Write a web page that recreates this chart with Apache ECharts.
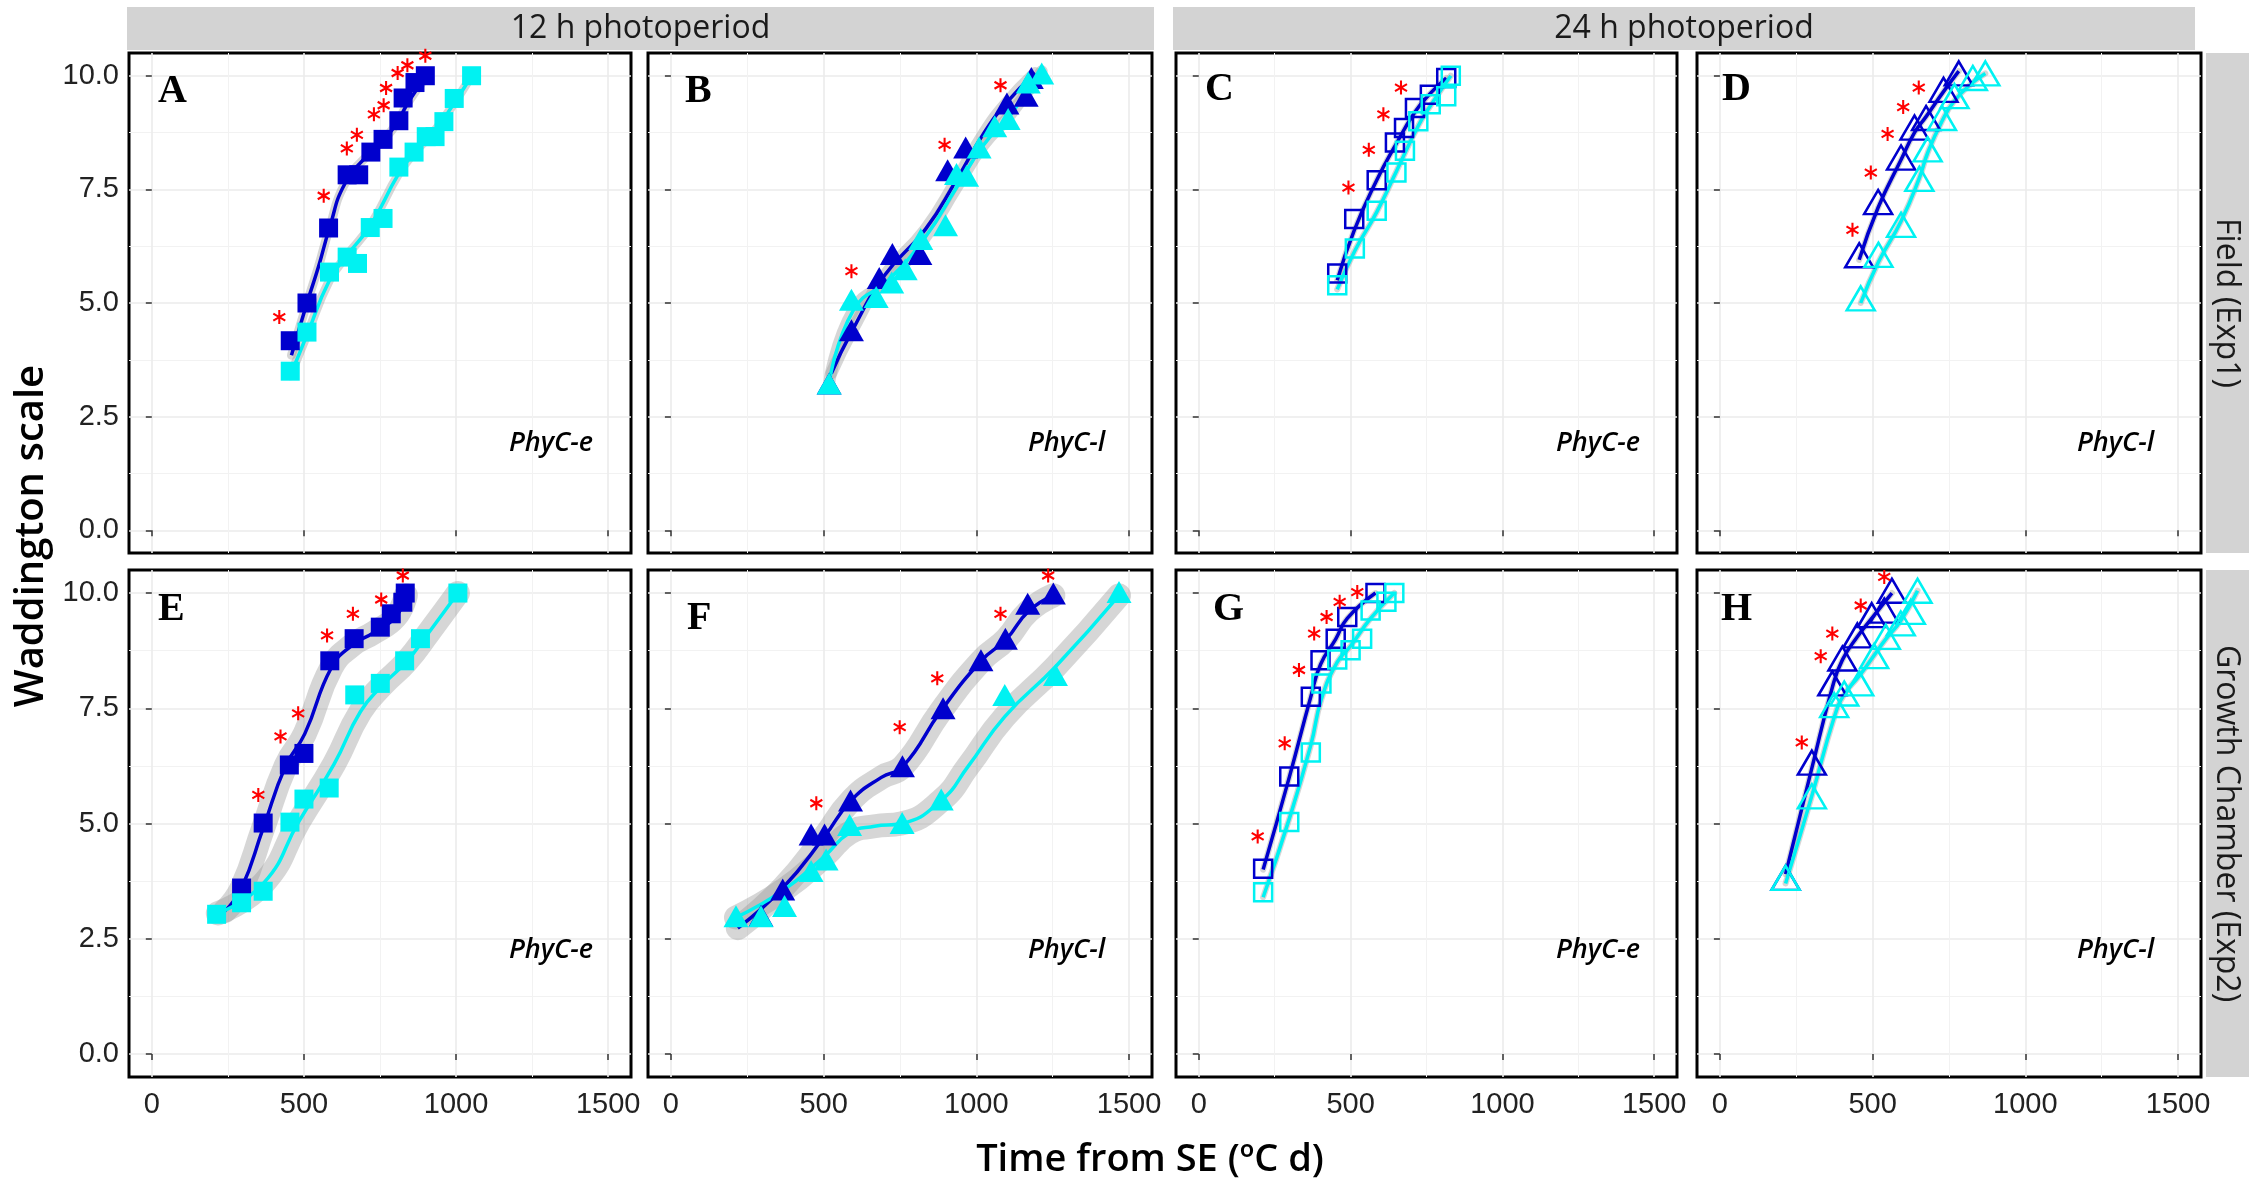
<!DOCTYPE html>
<html>
<head>
<meta charset="utf-8">
<script src="https://cdn.jsdelivr.net/npm/echarts@6/dist/echarts.min.js"></script>
<style>
  html, body { margin: 0; padding: 0; background: #fff; }
  #chart { width: 2257px; height: 1191px; }
</style>
</head>
<body>
<div id="chart"></div>
<script>
// tick values
const xMajor = [0, 500, 1000, 1500]
const xMinor = [250, 750, 1250]
const yMajor = [0, 2.5, 5, 7.5, 10]
const yMinor = [1.25, 3.75, 6.25, 8.75]

// A  12 h, field, PhyC-e
const aDarkX = [455, 510, 581, 642, 680, 720, 760, 812, 826, 865, 899]
const aDarkY = [4.17, 5.0, 6.65, 7.82, 7.82, 8.32, 8.6, 9.01, 9.51, 9.85, 10.0]
const aCyanX = [455, 510, 584, 642, 676, 718, 760, 812, 862, 902, 931, 960, 994, 1051]
const aCyanY = [3.5, 4.36, 5.68, 6.01, 5.87, 6.66, 6.86, 7.99, 8.32, 8.66, 8.66, 8.99, 9.5, 10.0]
const aDarkFitX = [459, 510, 547, 584, 635, 716, 789, 848, 899]
const aDarkFitY = [3.85, 5.0, 5.78, 6.65, 7.63, 8.3, 8.8, 9.47, 9.95]
const aCyanFitX = [455, 510, 584, 642, 718, 812, 862, 931, 994, 1051]
const aCyanFitY = [3.4, 4.3, 5.5, 6.05, 6.7, 7.85, 8.3, 8.8, 9.4, 10.0]
const aStarX = [419, 565, 641, 674, 730, 762, 770, 808, 840, 899]
const aStarY = [4.69, 7.36, 8.4, 8.7, 9.15, 9.35, 9.73, 10.06, 10.23, 10.44]

// B  12 h, field, PhyC-l
const bDarkX = [518, 591, 682, 725, 815, 906, 965, 1100, 1163, 1180]
const bDarkY = [3.23, 4.4, 5.55, 6.08, 6.08, 7.92, 8.42, 9.39, 9.56, 9.95]
const bCyanX = [518, 591, 672, 723, 767, 818, 899, 935, 968, 1009, 1060, 1104, 1170, 1214]
const bCyanY = [3.23, 5.07, 5.13, 5.45, 5.74, 6.41, 6.71, 7.84, 7.8, 8.42, 8.89, 9.05, 9.85, 10.05]
const bDarkFitX = [525, 591, 701, 833, 935, 1023, 1097, 1192]
const bDarkFitY = [3.45, 4.36, 5.62, 6.62, 7.71, 8.72, 9.39, 10.06]
const bCyanFitX = [518, 598, 716, 833, 935, 1023, 1111, 1214]
const bCyanFitY = [3.23, 4.85, 5.53, 6.45, 7.54, 8.47, 9.14, 10.1]
const bStarX = [591, 896, 1079]
const bStarY = [5.7, 8.48, 9.79]

// C  24 h, field, PhyC-e
const cDarkX = [456, 512, 586, 646, 676, 712, 761, 815]
const cDarkY = [5.65, 6.85, 7.7, 8.53, 8.85, 9.29, 9.58, 9.95]
const cCyanX = [456, 514, 586, 651, 679, 723, 764, 815, 830]
const cCyanY = [5.39, 6.2, 7.03, 7.87, 8.35, 9.0, 9.37, 9.55, 10.0]
const cDarkFitX = [456, 512, 586, 646, 712, 761, 815]
const cDarkFitY = [5.5, 6.6, 7.7, 8.45, 9.2, 9.6, 9.95]
const cCyanFitX = [456, 514, 586, 651, 723, 764, 830]
const cCyanFitY = [5.3, 6.15, 7.0, 7.9, 8.9, 9.35, 10.0]
const cStarX = [493, 560, 608, 666]
const cStarY = [7.54, 8.37, 9.15, 9.74]

// D  24 h, field, PhyC-l
const dDarkX = [456, 518, 593, 637, 675, 732, 782]
const dDarkY = [6.05, 7.22, 8.2, 8.86, 9.07, 9.69, 10.05]
const dCyanX = [461, 519, 593, 653, 680, 727, 768, 828, 869]
const dCyanY = [5.1, 6.06, 6.72, 7.73, 8.38, 9.07, 9.55, 9.95, 10.05]
const dDarkFitX = [456, 518, 593, 637, 675, 732, 782]
const dDarkFitY = [5.95, 7.1, 8.15, 8.75, 9.1, 9.65, 10.1]
const dCyanFitX = [461, 519, 593, 653, 680, 727, 768, 828, 869]
const dCyanFitY = [5.0, 5.9, 6.8, 7.75, 8.3, 9.0, 9.45, 9.85, 10.05]
const dStarX = [434, 494, 549, 600, 651]
const dStarY = [6.61, 7.87, 8.72, 9.31, 9.74]

// E  12 h, growth chamber, PhyC-e
const eDarkX = [295, 366, 452, 500, 585, 665, 751, 787, 825, 833]
const eDarkY = [3.6, 5.01, 6.27, 6.52, 8.53, 9.01, 9.26, 9.55, 9.8, 10.0]
const eCyanX = [213, 295, 366, 454, 500, 583, 667, 751, 831, 883, 1006]
const eCyanY = [3.03, 3.28, 3.53, 5.03, 5.53, 5.77, 7.79, 8.04, 8.53, 9.01, 10.0]
const eDarkFitX = [240, 295, 366, 440, 503, 590, 657, 729, 801, 835]
const eDarkFitY = [3.1, 3.6, 4.9, 6.25, 6.95, 8.38, 8.86, 9.14, 9.48, 9.95]
const eCyanFitX = [217, 368, 484, 599, 686, 758, 838, 910, 1006]
const eCyanFitY = [3.05, 3.71, 5.05, 6.29, 7.43, 8.0, 8.52, 9.14, 10.0]
const eStarX = [350, 423, 481, 576, 661, 754, 825]
const eStarY = [5.62, 6.89, 7.39, 9.08, 9.55, 9.86, 10.38]

// F  12 h, growth chamber, PhyC-l
const fDarkX = [295, 366, 459, 503, 588, 758, 891, 1015, 1095, 1168, 1252]
const fDarkY = [3.0, 3.57, 4.76, 4.76, 5.5, 6.24, 7.5, 8.54, 9.01, 9.77, 9.99]
const fCyanX = [213, 295, 372, 459, 508, 585, 757, 885, 1093, 1259, 1467]
const fCyanY = [2.99, 2.99, 3.21, 3.97, 4.22, 4.97, 5.01, 5.52, 7.79, 8.22, 10.02]
const fDarkFitX = [219, 366, 503, 590, 689, 760, 885, 1016, 1098, 1170, 1252]
const fDarkFitY = [2.73, 3.6, 4.72, 5.5, 6.0, 6.24, 7.45, 8.53, 9.0, 9.6, 9.95]
const fCyanFitX = [213, 372, 503, 585, 667, 754, 885, 973, 1093, 1259, 1467]
const fCyanFitY = [2.96, 3.57, 4.29, 4.8, 4.94, 5.0, 5.5, 6.24, 7.32, 8.4, 9.95]
const fStarX = [476, 749, 872, 1079, 1235]
const fStarY = [5.44, 7.09, 8.15, 9.55, 10.38]

// G  24 h, growth chamber, PhyC-e
const gDarkX = [212, 298, 369, 401, 451, 489, 582]
const gDarkY = [4.02, 6.02, 7.75, 8.54, 9.01, 9.48, 10.0]
const gCyanX = [212, 298, 369, 404, 456, 500, 538, 566, 618, 644]
const gCyanY = [3.51, 5.03, 6.54, 8.04, 8.56, 8.76, 9.01, 9.62, 9.81, 10.0]
const gDarkFitX = [212, 298, 369, 401, 451, 489, 582]
const gDarkFitY = [4.0, 6.0, 7.75, 8.45, 9.0, 9.45, 10.0]
const gCyanFitX = [212, 298, 369, 404, 456, 500, 566, 644]
const gCyanFitY = [3.4, 5.1, 6.7, 7.7, 8.5, 8.85, 9.45, 10.0]
const gStarX = [194, 283, 330, 380, 421, 464, 522]
const gStarY = [4.72, 6.74, 8.33, 9.12, 9.48, 9.81, 10.02]

// H  24 h, growth chamber, PhyC-l
const hDarkX = [215, 301, 368, 401, 450, 497, 538, 563]
const hDarkY = [3.82, 6.32, 8.04, 8.58, 9.08, 9.52, 9.62, 10.05]
const hCyanX = [215, 301, 374, 407, 456, 505, 543, 592, 625, 647]
const hCyanY = [3.82, 5.59, 7.57, 7.82, 8.04, 8.63, 9.05, 9.34, 9.59, 10.05]
const hDarkFitX = [215, 301, 368, 401, 450, 497, 563]
const hDarkFitY = [3.9, 6.2, 7.95, 8.55, 9.05, 9.45, 10.0]
const hCyanFitX = [215, 301, 374, 407, 456, 505, 543, 592, 647]
const hCyanFitY = [3.7, 5.6, 7.3, 7.8, 8.2, 8.65, 9.0, 9.4, 10.05]
const hStarX = [268, 330, 368, 461, 538]
const hStarY = [6.76, 8.63, 9.12, 9.73, 10.35]

const panels = [
  { letter: 'A', gene: 'PhyC-e', dx: aDarkX, dy: aDarkY, cx: aCyanX, cy: aCyanY, dfx: aDarkFitX, dfy: aDarkFitY, cfx: aCyanFitX, cfy: aCyanFitY, sx: aStarX, sy: aStarY, shape: 'square', open: false },
  { letter: 'B', gene: 'PhyC-l', dx: bDarkX, dy: bDarkY, cx: bCyanX, cy: bCyanY, dfx: bDarkFitX, dfy: bDarkFitY, cfx: bCyanFitX, cfy: bCyanFitY, sx: bStarX, sy: bStarY, shape: 'triangle', open: false },
  { letter: 'C', gene: 'PhyC-e', dx: cDarkX, dy: cDarkY, cx: cCyanX, cy: cCyanY, dfx: cDarkFitX, dfy: cDarkFitY, cfx: cCyanFitX, cfy: cCyanFitY, sx: cStarX, sy: cStarY, shape: 'square', open: true },
  { letter: 'D', gene: 'PhyC-l', dx: dDarkX, dy: dDarkY, cx: dCyanX, cy: dCyanY, dfx: dDarkFitX, dfy: dDarkFitY, cfx: dCyanFitX, cfy: dCyanFitY, sx: dStarX, sy: dStarY, shape: 'triangle', open: true },
  { letter: 'E', gene: 'PhyC-e', dx: eDarkX, dy: eDarkY, cx: eCyanX, cy: eCyanY, dfx: eDarkFitX, dfy: eDarkFitY, cfx: eCyanFitX, cfy: eCyanFitY, sx: eStarX, sy: eStarY, shape: 'square', open: false },
  { letter: 'F', gene: 'PhyC-l', dx: fDarkX, dy: fDarkY, cx: fCyanX, cy: fCyanY, dfx: fDarkFitX, dfy: fDarkFitY, cfx: fCyanFitX, cfy: fCyanFitY, sx: fStarX, sy: fStarY, shape: 'triangle', open: false },
  { letter: 'G', gene: 'PhyC-e', dx: gDarkX, dy: gDarkY, cx: gCyanX, cy: gCyanY, dfx: gDarkFitX, dfy: gDarkFitY, cfx: gCyanFitX, cfy: gCyanFitY, sx: gStarX, sy: gStarY, shape: 'square', open: true },
  { letter: 'H', gene: 'PhyC-l', dx: hDarkX, dy: hDarkY, cx: hCyanX, cy: hCyanY, dfx: hDarkFitX, dfy: hDarkFitY, cfx: hCyanFitX, cfy: hCyanFitY, sx: hStarX, sy: hStarY, shape: 'triangle', open: true },
]

// layout (px)
const colLeft = [129, 648, 1176, 1697]
const colWidth = [502, 504, 501, 504]
const rowTop = [53, 570]
const rowHeight = [500, 507]
const letterDx = [29, 37, 29, 25, 29, 39, 37, 24]
const letterY = [92, 92, 90, 90, 610, 619, 610, 610]
const bandWidth = [9, 12, 6, 6, 24, 24, 6, 6]

const DARK = '#0000CD'
const CYAN = '#00F2F2'
const SANS = '"Open Sans", "Noto Sans", sans-serif'
const TICKFONT = '"Liberation Sans", Arial, sans-serif'
// asterisk made of three crossing bars
const STAR = 'path://M-1.5,-10L1.5,-10L1.5,10L-1.5,10Z M7.91,6.3L-9.41,-3.7L-7.91,-6.3L9.41,3.7Z M-7.91,6.3L-9.41,3.7L7.91,-6.3L9.41,-3.7Z'

const pairs = (xs, ys) => xs.map((x, i) => [x, ys[i]])

const grids = []
const xAxes = []
const yAxes = []
const series = []
const graphics = []

panels.forEach((p, i) => {
  const row = Math.floor(i / 4)
  const col = i % 4
  grids.push({
    left: colLeft[col], top: rowTop[row], width: colWidth[col], height: rowHeight[row],
    show: true, borderColor: '#000', borderWidth: 3, backgroundColor: '#fff',
  })
  xAxes.push({
    gridIndex: i, type: 'value', min: -75, max: 1575, position: 'bottom',
    axisLine: { show: false },
    axisTick: { show: true, length: 6, lineStyle: { color: '#333', width: 1.5 }, customValues: xMajor },
    axisLabel: {
      show: row === 1, customValues: xMajor, fontSize: 29, color: '#222', fontFamily: TICKFONT, margin: 13,
      formatter: v => String(v),
    },
    splitLine: { show: true, lineStyle: { color: '#EBEBEB', width: 1.6 } },
  })
  xAxes.push({
    gridIndex: i, type: 'value', min: -75, max: 1575, position: 'top',
    axisLine: { show: false },
    axisTick: { show: false, customValues: xMinor },
    axisLabel: { show: false },
    splitLine: { show: true, lineStyle: { color: '#F2F2F2', width: 1 } },
  })
  yAxes.push({
    gridIndex: i, type: 'value', min: -0.5, max: 10.5, position: 'left',
    axisLine: { show: false },
    axisTick: { show: true, length: 6, lineStyle: { color: '#333', width: 1.5 }, customValues: yMajor },
    axisLabel: {
      show: col === 0, customValues: yMajor, fontSize: 29, color: '#222', fontFamily: TICKFONT, margin: 10,
      formatter: v => Number(v).toFixed(1),
    },
    splitLine: { show: true, lineStyle: { color: '#EBEBEB', width: 1.6 } },
  })
  yAxes.push({
    gridIndex: i, type: 'value', min: -0.5, max: 10.5, position: 'right',
    axisLine: { show: false },
    axisTick: { show: false, customValues: yMinor },
    axisLabel: { show: false },
    splitLine: { show: true, lineStyle: { color: '#F2F2F2', width: 1 } },
  })

  const tri = p.shape === 'triangle'
  let size
  if (tri) size = p.open ? [28, 24] : [25, 22]
  else size = p.open ? 18 : 19

  const groups = [[p.dfx, p.dfy, p.dx, p.dy, DARK], [p.cfx, p.cfy, p.cx, p.cy, CYAN]]
  // grey confidence ribbons
  groups.forEach(([fx, fy]) => {
    series.push({
      type: 'line', xAxisIndex: 2 * i, yAxisIndex: 2 * i, data: pairs(fx, fy),
      smooth: 0.5, showSymbol: false, silent: true, z: 2,
      lineStyle: { color: 'rgba(153,153,153,0.4)', width: bandWidth[i], cap: 'round', join: 'round' },
    })
  })
  // fitted curves
  groups.forEach(([fx, fy, , , color]) => {
    series.push({
      type: 'line', xAxisIndex: 2 * i, yAxisIndex: 2 * i, data: pairs(fx, fy),
      smooth: 0.5, showSymbol: false, silent: true, z: 3,
      lineStyle: { color: color, width: 3.5 },
    })
  })
  // means
  groups.forEach(([, , xs, ys, color], k) => {
    series.push({
      type: 'scatter', xAxisIndex: 2 * i, yAxisIndex: 2 * i, data: pairs(xs, ys),
      symbol: tri ? 'triangle' : 'rect', symbolSize: size, z: 4 + k,
      itemStyle: p.open
        ? { color: 'rgba(255,255,255,0)', borderColor: color, borderWidth: 2.5, opacity: 1 }
        : { color: color, borderWidth: 0, opacity: 1 },
    })
  })
  series.push({
    type: 'scatter', xAxisIndex: 2 * i, yAxisIndex: 2 * i, data: pairs(p.sx, p.sy),
    symbol: STAR, symbolSize: [13, 14], itemStyle: { color: '#FF0000', opacity: 1 }, z: 6,
  })

  graphics.push({
    type: 'text', x: colLeft[col] + letterDx[i], y: letterY[i], z: 100,
    style: { text: p.letter, font: 'bold 40px "Liberation Serif", "Times New Roman", serif', fill: '#000', align: 'left', verticalAlign: 'middle' },
  })
  graphics.push({
    type: 'text', x: colLeft[col] + 380, y: row === 0 ? 443 : 950, z: 100,
    style: { text: p.gene, font: 'italic 600 27px ' + SANS, fill: '#000', align: 'left', verticalAlign: 'middle' },
  })
})

// strips
const topStrips = [['12 h photoperiod', 127, 1154], ['24 h photoperiod', 1173, 2195]]
topStrips.forEach(([label, x0, x1]) => {
  graphics.push({ type: 'rect', shape: { x: x0, y: 7, width: x1 - x0, height: 43 }, style: { fill: '#D3D3D3' }, z: 1 })
  graphics.push({
    type: 'text', x: (x0 + x1) / 2, y: 29, z: 100,
    style: { text: label, font: '32px ' + SANS, fill: '#1a1a1a', align: 'center', verticalAlign: 'middle' },
  })
})
const sideStrips = [['Field (Exp1)', 53, 553], ['Growth Chamber (Exp2)', 570, 1077]]
sideStrips.forEach(([label, y0, y1]) => {
  graphics.push({ type: 'rect', shape: { x: 2206, y: y0, width: 43, height: y1 - y0 }, style: { fill: '#D3D3D3' }, z: 1 })
  graphics.push({
    type: 'text', x: 2226, y: (y0 + y1) / 2, rotation: -Math.PI / 2, z: 100,
    style: { text: label, font: '32px ' + SANS, fill: '#1a1a1a', align: 'center', verticalAlign: 'middle' },
  })
})

// axis titles
graphics.push({
  type: 'text', x: 32, y: 536, rotation: Math.PI / 2, z: 100,
  style: { text: 'Waddington scale', font: '600 40px ' + SANS, fill: '#000', align: 'center', verticalAlign: 'middle' },
})
graphics.push({
  type: 'text', x: 1150, y: 1160, z: 100,
  style: { text: 'Time from SE (ºC d)', font: '600 38px ' + SANS, fill: '#000', align: 'center', verticalAlign: 'middle' },
})

const chart = echarts.init(document.getElementById('chart'))
chart.setOption({
  animation: false,
  backgroundColor: '#fff',
  grid: grids,
  xAxis: xAxes,
  yAxis: yAxes,
  series: series,
  graphic: graphics,
})
</script>
</body>
</html>
